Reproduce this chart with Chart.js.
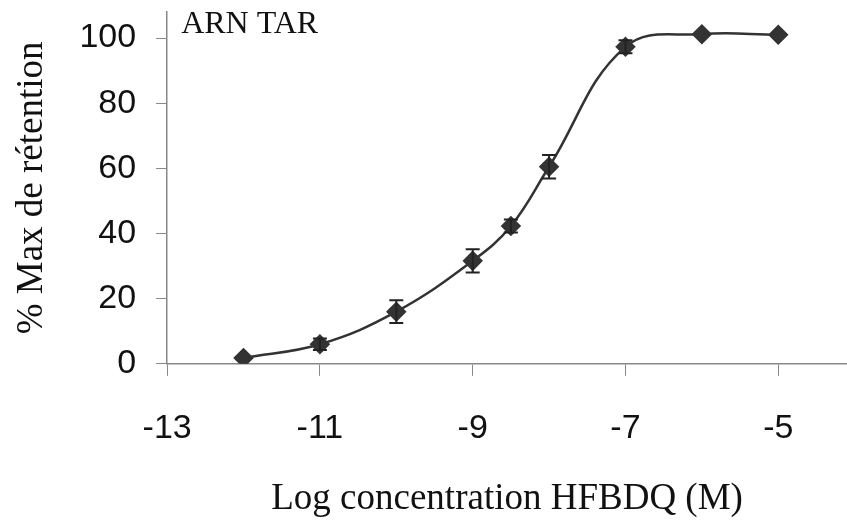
<!DOCTYPE html>
<html>
<head>
<meta charset="utf-8">
<script src="https://cdn.jsdelivr.net/npm/chart.js@4.4.1/dist/chart.umd.min.js"></script>
<style>
  html, body { margin: 0; padding: 0; background: #fff; }
  #wrap { position: relative; width: 847px; height: 529px; }
</style>
</head>
<body>
<div id="wrap"><canvas id="doseChart"></canvas></div>
<script>
// data
const logConc = [-12, -11, -10, -9, -8.5, -8, -7, -6, -5];
const retention = [1.8, 6, 16, 31.6, 42.3, 60.5, 97.3, 101.2, 101];
const sem = [0, 1.8, 3.5, 3.6, 2, 3.6, 2, 0, 0];
const xTicks = [-13, -11, -9, -7, -5];
const yTicks = [0, 20, 40, 60, 80, 100];

const serif = "'Liberation Serif', 'Times New Roman', serif";
const sans = "'Liberation Sans', Arial, sans-serif";

// error bars + panel label, drawn through the chart scales
const errorBars = {
  id: 'errorBars',
  afterDatasetsDraw(chart) {
    const { ctx, scales: { x, y } } = chart;
    ctx.save();
    ctx.strokeStyle = '#222';
    ctx.lineWidth = 2;
    logConc.forEach((c, i) => {
      if (!sem[i]) return;
      const px = x.getPixelForValue(c);
      const top = y.getPixelForValue(retention[i] + sem[i]);
      const bot = y.getPixelForValue(retention[i] - sem[i]);
      ctx.beginPath();
      ctx.moveTo(px, top); ctx.lineTo(px, bot);
      ctx.moveTo(px - 7, top); ctx.lineTo(px + 7, top);
      ctx.moveTo(px - 7, bot); ctx.lineTo(px + 7, bot);
      ctx.stroke();
    });
    ctx.fillStyle = '#111';
    ctx.font = '32px ' + serif;
    ctx.textBaseline = 'alphabetic';
    ctx.fillText('ARN TAR', chart.chartArea.left + 14, 33);
    ctx.restore();
  }
};

// the last tick labels are not at the axis ends, so drop the edge padding
const noEdgePad = axis => {
  axis.paddingTop = 0; axis.paddingBottom = 0;
  axis.paddingLeft = 0; axis.paddingRight = 0;
};

new Chart(document.getElementById('doseChart'), {
  type: 'line',
  data: {
    datasets: [{
      data: logConc.map((c, i) => ({ x: c, y: retention[i] })),
      borderColor: '#333',
      borderWidth: 2.5,
      tension: 0.4,
      pointStyle: 'rectRot',
      pointRadius: 8.5,
      pointBackgroundColor: '#333',
      pointBorderColor: '#333',
      fill: false
    }]
  },
  options: {
    responsive: true,
    maintainAspectRatio: false,
    animation: false,
    layout: { autoPadding: false, padding: { left: 10, right: 0, top: 12, bottom: 8 } },
    plugins: { legend: { display: false }, tooltip: { enabled: false } },
    scales: {
      x: {
        type: 'linear',
        min: -13,
        max: -4.1,
        afterBuildTicks: axis => { axis.ticks = xTicks.map(v => ({ value: v })); },
        afterFit: noEdgePad,
        grid: { drawOnChartArea: false, drawTicks: true, tickLength: 12, color: '#888' },
        border: { color: '#888', width: 1.5 },
        ticks: { color: '#111', font: { family: sans, size: 34 }, padding: 32 },
        title: {
          display: true,
          text: 'Log concentration HFBDQ (M)',
          color: '#111',
          font: { family: serif, size: 37 },
          padding: { top: -4, bottom: 0 }
        }
      },
      y: {
        min: 0,
        max: 108,
        afterBuildTicks: axis => { axis.ticks = yTicks.map(v => ({ value: v })); },
        afterFit: noEdgePad,
        grid: { drawOnChartArea: false, drawTicks: true, tickLength: 11, color: '#888' },
        border: { color: '#888', width: 1.5 },
        ticks: { color: '#111', font: { family: sans, size: 34 }, padding: 20 },
        title: {
          display: true,
          text: '% Max de rétention',
          color: '#111',
          font: { family: serif, size: 37 },
          padding: { top: 0, bottom: 5 }
        }
      }
    }
  },
  plugins: [errorBars]
});
</script>
</body>
</html>
